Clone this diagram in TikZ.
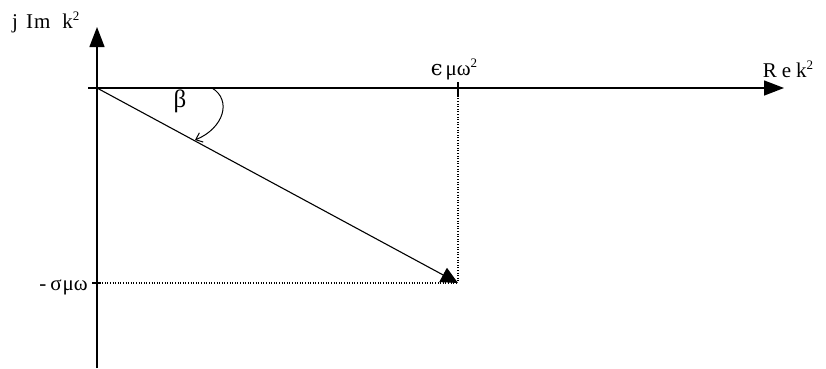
\documentclass[tikz,border=0pt]{standalone}
\usepackage{fontspec}
\setmainfont{Liberation Serif}
\newfontfamily\grk{DejaVu Serif}
\newcommand{\sqr}{\raisebox{8pt}{\fontsize{13}{13}\selectfont 2}}
\usetikzlibrary{arrows.meta}
\begin{document}
\begin{tikzpicture}[x=1pt,y=-1pt,
  axis/.style={line width=1.4pt,-{Triangle[length=20pt,width=15pt]}},
  guide/.style={line width=1.2pt,dash pattern=on 1pt off 1.6pt},
  lbl/.style={font=\fontsize{21}{23}\selectfont, inner sep=0pt}]
\useasboundingbox (0,0) rectangle (826,368);
\coordinate (O) at (97,88);
\coordinate (ybot) at (97,368);
\coordinate (ytop) at (97,27);
\coordinate (xleft) at (88,88);
\coordinate (xright) at (784,88);
\coordinate (P) at (458,283);
\coordinate (Px) at (458,88);
\coordinate (Py) at (97,283);
\draw[axis] (ybot) -- (ytop);
\draw[axis] (xleft) -- (xright);
\draw[guide] (Px) -- (P);
\draw[guide] (Py) -- (P);
\draw[line width=1.2pt] (458,82) -- (458,96);
\draw[line width=1.2pt] (92,283) -- (101,283);
\draw[line width=1.1pt,-{Triangle[length=17pt,width=16pt]}] (O) -- (P);
\coordinate (a1) at (212,88);
\coordinate (a2) at (195,140);
\draw[line width=1pt,-{Straight Barb[length=6pt,width=10pt]}] (a1) .. controls (232,100) and (224,128) .. (a2);
\node[lbl, anchor=base west] (ylab) at (12,28) {j\hspace{8pt}I\hspace{1pt}m\hspace{12pt}k\sqr};
\node[lbl, anchor=base] (xlab) at (788,77) {R\hspace{5pt}e\hspace{5pt}k\sqr};
\node[lbl, anchor=base] (eps) at (454,75) {{\grk ϵ}\hspace{3pt}μω\sqr};
\node[lbl, anchor=base] (beta) at (180,107) {\fontsize{25}{27}\selectfont β};
\node[lbl, anchor=base east] (sig) at (88,290) {-\hspace{4pt}σ\hspace{1pt}μω};
\end{tikzpicture}
\end{document}
